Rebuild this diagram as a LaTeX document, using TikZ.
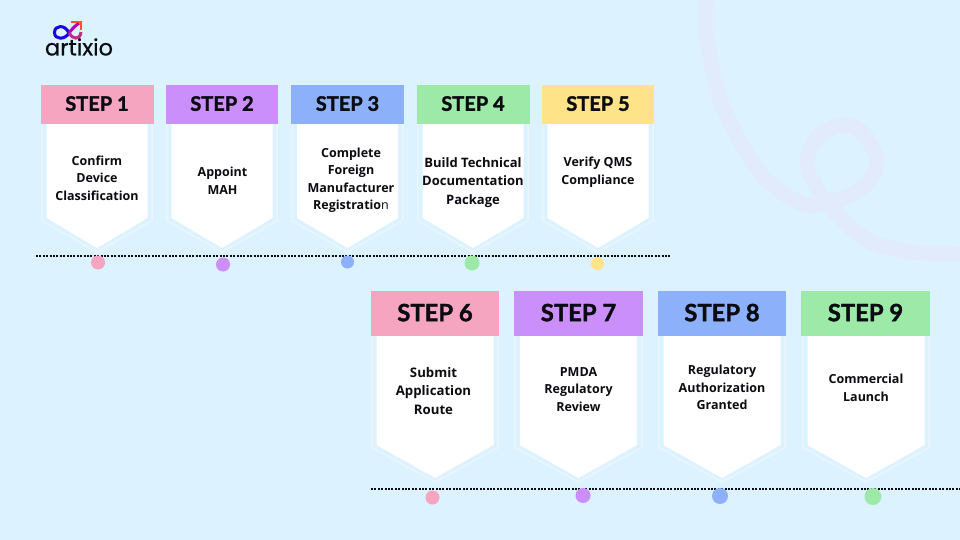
\documentclass[tikz,border=0pt]{standalone}
\usepackage{fontspec}
\setmainfont{Open Sans}
\newfontfamily\headfont[FakeBold=1.6]{Lato Bold}
\newfontfamily\logofont[FakeBold=0.5]{Poppins}
\usetikzlibrary{positioning,calc}
\definecolor{pagebg}{HTML}{DCF2FF}
\definecolor{swirl}{HTML}{E2EBFB}
\definecolor{edgeblue}{HTML}{E9F6FF}
\definecolor{stepink}{HTML}{0B0B12}
\definecolor{pinkstep}{HTML}{F6A5C0}
\definecolor{purplestep}{HTML}{CB8FFB}
\definecolor{bluestep}{HTML}{8DB0FB}
\definecolor{greenstep}{HTML}{9DE9A8}
\definecolor{yellowstep}{HTML}{FEE389}
\tikzset{
  head/.style={draw=none,minimum height=39pt,text depth=2pt,font=\headfont\fontsize{20}{20}\selectfont,text=stepink,inner sep=0pt},
  bighead/.style={head,minimum height=45pt,font=\headfont\fontsize{23.8}{23.8}\selectfont},
  body/.style={align=center,font=\bfseries\fontsize{12.5}{17.5}\selectfont,text=stepink,inner sep=0pt},
  bigbody/.style={body},
  dot/.style={circle,draw=none,inner sep=0pt},
  timeline/.style={line width=2pt,stepink,dash pattern=on 2pt off 1.4pt},
}
% arrow shaped card: x centre, half width, top, shoulder, tip
\newcommand{\stepcard}[5]{
  \fill[edgeblue] (#1-#2,#3) -- (#1+#2,#3) -- (#1+#2,#4+3) -- (#1,#5+5) -- (#1-#2,#4+3) -- cycle;
  \fill[pagebg] (#1-#2+1.6,#3) -- (#1+#2-1.6,#3) -- (#1+#2-1.6,#4+2) -- (#1,#5+3) -- (#1-#2+1.6,#4+2) -- cycle;
  \fill[white] (#1-#2+5.5,#3) -- (#1+#2-5.5,#3) -- (#1+#2-5.5,#4) -- (#1,#5) -- (#1-#2+5.5,#4) -- cycle;
}
\begin{document}
\begin{tikzpicture}[x=1pt,y=-1pt]
  \fill[pagebg] (0,0) rectangle (960,540);
  \useasboundingbox (0,0) rectangle (960,540);

  % background swirl
  \draw[swirl,line width=15pt,smooth] plot coordinates {(707,-8) (707,40) (723,107) (760,173)
    (800,203) (823,204) (860,190) (877,163) (863,133) (842,125) (817,137) (807,163)
    (820,193) (840,217) (867,240) (910,252) (968,254)};

  % logo
  \draw[line width=3pt,blue!80!violet] (69,33) .. controls (65,24) and (54.5,25) .. (54.5,32.5) .. controls (54.5,40) and (65,40) .. (69,33);
  \draw[line width=3pt,violet!60!magenta] (69,33) .. controls (72,29) and (75,26) .. (79,23);
  \draw[line width=3pt,magenta!60!violet] (69,33) .. controls (72,39) and (80,41) .. (81,32);
  \draw[line width=2.6pt,red!70!orange!80] (71,22) -- (81,22) -- (81,30);
  \node[inner sep=0pt,font=\logofont\fontsize{22.5}{22.5}\selectfont,text=stepink] (logo) at (79,47) {artixio};

  % top row
  \stepcard{97}{56}{124}{218}{248}
  \stepcard{222}{56}{124}{218}{248}
  \stepcard{347.5}{56}{124}{218}{248}
  \stepcard{473}{56}{124}{218}{248}
  \stepcard{598}{56}{124}{218}{248}

  \node[head,fill=pinkstep,minimum width=113pt] (s1) at (97,104.5) {STEP 1};
  \node[head,fill=purplestep,minimum width=112pt] (s2) at (222,104.5) {STEP 2};
  \node[head,fill=bluestep,minimum width=113pt] (s3) at (347.5,104.5) {STEP 3};
  \node[head,fill=greenstep,minimum width=113pt] (s4) at (473,104.5) {STEP 4};
  \node[head,fill=yellowstep,minimum width=112pt] (s5) at (598,104.5) {STEP 5};

  \node[body] (t1) at (97,178) {Confirm\\Device\\Classification};
  \node[body] (t2) at (222.5,181) {Appoint\\MAH};
  \node[body] (t3) at (351,180.5) {Complete\\Foreign\\Manufacturer\\Registratio\textmd{n}};
  \node[body,font=\bfseries\fontsize{13}{18.5}\selectfont] (t4) at (473,182.5) {Build Technical\\Documentation\\Package};
  \node[body] (t5) at (598,172) {Verify QMS\\Compliance};

  \coordinate (a0) at (36,255.5);
  \coordinate (a1) at (670,255.5);
  \draw[timeline] (a0) -- (a1);
  \node[dot,fill=pinkstep,minimum size=14pt] (d1) at (98,262.5) {};
  \node[dot,fill=purplestep,minimum size=14pt] (d2) at (223,264.5) {};
  \node[dot,fill=bluestep,minimum size=13pt] (d3) at (347.5,262) {};
  \node[dot,fill=greenstep,minimum size=15pt] (d4) at (472,263) {};
  \node[dot,fill=yellowstep,minimum size=13pt] (d5) at (597.5,263.5) {};

  % bottom row
  \stepcard{435}{64}{336}{445}{478}
  \stepcard{578.5}{64}{336}{445}{478}
  \stepcard{722}{64}{336}{445}{478}
  \stepcard{866}{64}{336}{445}{478}

  \node[bighead,fill=pinkstep,minimum width=128pt] (s6) at (435,313.5) {STEP 6};
  \node[bighead,fill=purplestep,minimum width=129pt] (s7) at (578.5,313.5) {STEP 7};
  \node[bighead,fill=bluestep,minimum width=128pt] (s8) at (722,313.5) {STEP 8};
  \node[bighead,fill=greenstep,minimum width=129pt] (s9) at (865.5,313.5) {STEP 9};

  \node[body,font=\bfseries\fontsize{13.2}{18.5}\selectfont] (t6) at (433.5,391) {Submit\\Application\\Route};
  \node[bigbody] (t7) at (578.5,389.5) {PMDA\\Regulatory\\Review};
  \node[bigbody] (t8) at (722,387.5) {Regulatory\\Authorization\\Granted};
  \node[bigbody] (t9) at (866,388) {Commercial\\Launch};

  \coordinate (b0) at (371,488.5);
  \coordinate (b1) at (960,488.5);
  \draw[timeline] (b0) -- (b1);
  \node[dot,fill=pinkstep,minimum size=14pt] (d6) at (432.5,497.5) {};
  \node[dot,fill=purplestep,minimum size=15pt] (d7) at (583,495.5) {};
  \node[dot,fill=bluestep,minimum size=16pt] (d8) at (720,496) {};
  \node[dot,fill=greenstep,minimum size=17pt] (d9) at (873,496.5) {};
\end{tikzpicture}
\end{document}
